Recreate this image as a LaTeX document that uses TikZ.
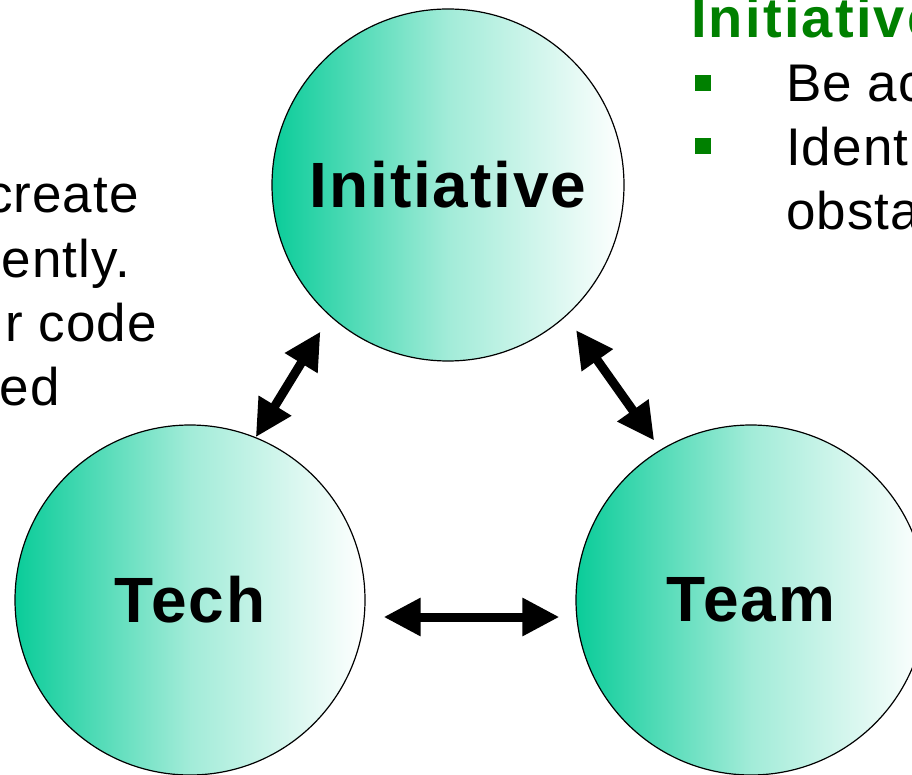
\documentclass[tikz,border=0pt]{standalone}
\usepackage{fontspec}
\setmainfont{Liberation Sans}
\usetikzlibrary{arrows.meta}
\definecolor{sea}{RGB}{10,204,153}
\definecolor{leaf}{RGB}{0,128,0}

\begin{document}
\begin{tikzpicture}[x=1pt,y=-1pt,
  ball/.style={circle, draw, line width=1.2pt, minimum size=352pt, inner sep=0pt,
    left color=sea, right color=white, middle color=sea!38!white,
    font=\bfseries\fontsize{64}{64}\selectfont\addfontfeatures{LetterSpace=3}},
  link/.style={line width=9pt, {Triangle[length=37pt,width=36pt]}-{Triangle[length=37pt,width=36pt]}},
  say/.style={inner sep=0pt, font=\fontsize{53}{64}\selectfont\addfontfeatures{LetterSpace=2}},
  dot/.style={fill=leaf, minimum size=16pt, inner sep=0pt}]
  \useasboundingbox (0,0) rectangle (912,775);
  \clip (0,0) rectangle (912,775);
  \node[ball] (c1) at (448,185) {Initiative};
  \node[ball, minimum size=350pt] (c2) at (190,600) {Tech};
  \node[ball, minimum size=350pt] (c3) at (751,600) {Team};
  \node[say, anchor=base east] (l1) at (139,213) {create};
  \node[say, anchor=base east] (l2) at (130,278) {ently.};
  \node[say, anchor=base east] (l3) at (157,341) {r code};
  \node[say, anchor=base east] (l4) at (60,405) {ed};
  \node[inner sep=0pt, anchor=base west, text=leaf,
    font=\bfseries\fontsize{56}{56}\selectfont\addfontfeatures{LetterSpace=4}] (r0) at (691,38) {Initiative};
  \node[dot] (b1) at (703,83) {};
  \node[dot] (b2) at (703,146) {};
  \node[say, anchor=base west] (r1) at (786,102) {Be ac};
  \node[say, anchor=base west] (r2) at (786,166) {Ident};
  \node[say, anchor=base west] (r3) at (786,230) {obsta};
  \draw[link, shorten <=18pt] (c1.228) -- (c2.68);
  \draw[link, shorten <=17pt, shorten >=11pt] (c1.312) -- (c3.121);
  \draw[link, shorten <=18pt, shorten >=16pt] ([yshift=-17pt]c2.east) -- ([yshift=-17pt]c3.west);
\end{tikzpicture}
\end{document}
